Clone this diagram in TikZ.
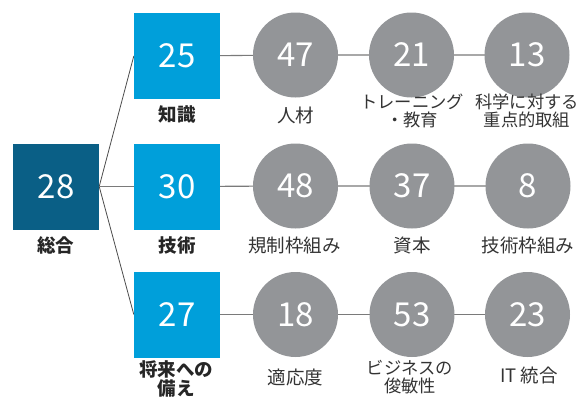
\documentclass[tikz,border=0pt]{standalone}
\usepackage{fontspec}
\usetikzlibrary{backgrounds}
\setmainfont{Noto Sans CJK JP}
\newfontfamily\jp{Noto Sans CJK JP}
\definecolor{darkteal}{HTML}{0A5F86}
\definecolor{skyblue}{HTML}{009FDA}
\definecolor{circgray}{HTML}{939598}
\definecolor{linegray}{HTML}{7A7A7A}
\tikzset{
  numtxt/.style={text=white,font=\jp\fontsize{33}{33}\selectfont},
  mainbox/.style={numtxt,fill=darkteal,minimum width=86pt,minimum height=86pt,inner sep=0pt},
  catbox/.style={numtxt,fill=skyblue,minimum width=86pt,minimum height=86pt,inner sep=0pt},
  itemcirc/.style={numtxt,circle,fill=circgray,minimum size=85pt,inner sep=0pt},
  boldlbl/.style={font=\jp\bfseries\fontsize{18.5}{19}\selectfont,align=center,inner sep=0pt,text=black!85},
  lbl/.style={font=\jp\fontsize{18.5}{18}\selectfont,align=center,inner sep=0pt,text=black!80},
  lbltwo/.style={font=\jp\fontsize{17.3}{18}\selectfont,align=center,inner sep=0pt,text=black!80},
  conn/.style={draw=linegray,line width=1.1pt},
  branch/.style={draw=black!70,line width=0.8pt}
}
\begin{document}
\begin{tikzpicture}[x=1pt,y=-1pt]
\useasboundingbox (0,0) rectangle (584,399);
\node[mainbox] (n28) at (56,186.5) {28};
\node[catbox] (n25) at (177,56) {25};
\node[catbox] (n30) at (177,186.5) {30};
\node[catbox] (n27) at (177,314.5) {27};
\node[itemcirc] (n47) at (295.5,55) {47};
\node[itemcirc] (n21) at (411.5,55) {21};
\node[itemcirc] (n13) at (527,55) {13};
\node[itemcirc] (n48) at (295.5,186) {48};
\node[itemcirc] (n37) at (412,186) {37};
\node[itemcirc] (n8) at (528,186) {8};
\node[itemcirc] (n18) at (295.5,314.5) {18};
\node[itemcirc] (n53) at (412,314.5) {53};
\node[itemcirc] (n23) at (527.5,314.5) {23};
\begin{scope}[on background layer]
\draw[branch] (n28.east) -- (n25.west);
\draw[branch] (n28.east) -- (n27.west);
\draw[conn] (n28.east) -- (n30.west);
\draw[conn] (n25.center) -- (n47.center) -- (n21.center) -- (n13.center);
\draw[conn] (n30.center) -- (n48.center) -- (n37.center) -- (n8.center);
\draw[conn] (n27.center) -- (n18.center) -- (n53.center) -- (n23.center);
\end{scope}
% labels
\node[boldlbl] (l28) at (56,245) {総合};
\node[boldlbl] (l25) at (177,114.5) {知識};
\node[boldlbl] (l30) at (177,245) {技術};
\node[boldlbl] (l27) at (176,379) {将来への\\備え};
\node[lbl] (l47) at (295.5,115) {人材};
\node[lbltwo] (l21) at (412,110.5) {トレーニング\\・教育};
\node[lbltwo] (l13) at (527,111) {科学に対する\\重点的取組};
\node[lbl] (l48) at (294.5,245) {規制枠組み};
\node[lbl] (l37) at (412,245) {資本};
\node[lbl] (l8) at (528,245) {技術枠組み};
\node[lbl] (l18) at (295.5,377) {適応度};
\node[lbltwo] (l53) at (410,377.5) {ビジネスの\\俊敏性};
\node[lbl] (l23) at (529,376) {IT 統合};
\end{tikzpicture}
\end{document}
